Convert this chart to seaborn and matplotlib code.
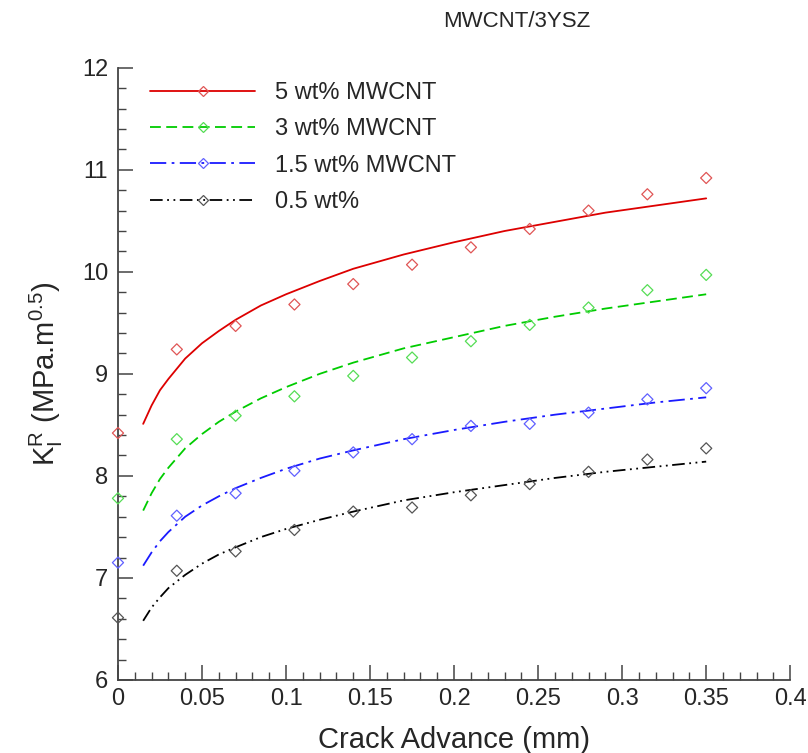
import matplotlib
matplotlib.use("Agg")
import matplotlib.pyplot as plt
from matplotlib.lines import Line2D
from matplotlib.ticker import MultipleLocator
import seaborn as sns

# measured points (crack advance in mm, K_R in MPa.m^0.5)
crack = [0, 0.035, 0.07, 0.105, 0.14, 0.175, 0.21, 0.245, 0.28, 0.315, 0.35]
k_5wt = [8.42, 9.24, 9.47, 9.68, 9.88, 10.07, 10.24, 10.42, 10.60, 10.76, 10.92]
k_3wt = [7.78, 8.36, 8.59, 8.78, 8.98, 9.16, 9.32, 9.48, 9.65, 9.82, 9.97]
k_15wt = [7.15, 7.61, 7.83, 8.05, 8.23, 8.36, 8.49, 8.51, 8.62, 8.75, 8.86]
k_05wt = [6.61, 7.07, 7.26, 7.47, 7.65, 7.69, 7.81, 7.92, 8.04, 8.16, 8.27]

# fitted curves
fit_x = [0.015, 0.02, 0.025, 0.03, 0.04, 0.05, 0.06, 0.07, 0.085, 0.1,
         0.12, 0.14, 0.17, 0.2, 0.23, 0.26, 0.29, 0.32, 0.35]
fit_5wt = [8.51, 8.69, 8.84, 8.95, 9.15, 9.30, 9.42, 9.53, 9.67, 9.78,
           9.91, 10.03, 10.17, 10.29, 10.40, 10.49, 10.58, 10.65, 10.72]
fit_3wt = [7.66, 7.83, 7.97, 8.08, 8.27, 8.41, 8.53, 8.63, 8.76, 8.87,
           9.00, 9.11, 9.25, 9.36, 9.47, 9.56, 9.64, 9.71, 9.78]
fit_15wt = [7.12, 7.25, 7.36, 7.45, 7.60, 7.71, 7.80, 7.88, 7.98, 8.07,
            8.17, 8.25, 8.36, 8.45, 8.53, 8.60, 8.66, 8.72, 8.77]
fit_05wt = [6.58, 6.71, 6.81, 6.90, 7.03, 7.14, 7.23, 7.30, 7.40, 7.48,
            7.57, 7.65, 7.76, 7.84, 7.91, 7.98, 8.04, 8.09, 8.14]

labels = ["5 wt% MWCNT", "3 wt% MWCNT", "1.5 wt% MWCNT", "0.5 wt%"]
x_ticks = [0, 0.05, 0.1, 0.15, 0.2, 0.25, 0.3, 0.35, 0.4]
x_ticklabels = ["0", "0.05", "0.1", "0.15", "0.2", "0.25", "0.3", "0.35", "0.4"]
y_ticks = [6, 7, 8, 9, 10, 11, 12]

sns.set_style("ticks")
plt.rcParams["font.family"] = ["Liberation Sans", "DejaVu Sans"]
plt.rcParams["mathtext.fontset"] = "custom"
plt.rcParams["mathtext.rm"] = "Liberation Sans"
plt.rcParams["mathtext.it"] = "Liberation Sans:italic"

fig = plt.figure(figsize=(8.08, 7.53), dpi=100)
ax = fig.add_axes([0.146, 0.097, 0.832, 0.813])

series = [
    (k_5wt, fit_5wt, "#dd0000", "#e05555", "-"),
    (k_3wt, fit_3wt, "#00cc00", "#55dd55", (0, (6, 3))),
    (k_15wt, fit_15wt, "#1a1aff", "#6060ff", (0, (9, 3, 1.5, 3))),
    (k_05wt, fit_05wt, "#000000", "#555555", (0, (7, 2.5, 1, 2.5, 1, 2.5))),
]

handles = []
for (pts, fit, lc, mc, ls), lab in zip(series, labels):
    sns.lineplot(x=fit_x, y=fit, ax=ax, color=lc, linestyle=ls, linewidth=1.3)
    sns.scatterplot(x=crack, y=pts, ax=ax, marker="D", s=32, clip_on=False,
                    facecolor="none", edgecolor=mc, linewidth=0.9, zorder=3)
    handles.append(Line2D([], [], color=lc, linestyle=ls, linewidth=1.3,
                          marker="D", markersize=5.5, markerfacecolor="none",
                          markeredgecolor=mc, markeredgewidth=0.9))

ax.legend(handles, labels, loc="upper left", bbox_to_anchor=(0.016, 1.011),
          frameon=False, fontsize=17, handlelength=4.45, handletextpad=0.85,
          labelspacing=0.6)

ax.set_xlim(0, 0.4)
ax.set_ylim(6, 12)
ax.set_xticks(x_ticks, x_ticklabels)
ax.set_yticks(y_ticks)
ax.xaxis.set_minor_locator(MultipleLocator(0.01))
ax.yaxis.set_minor_locator(MultipleLocator(0.2))

sns.despine(ax=ax)
for side in ["left", "bottom"]:
    ax.spines[side].set_color("#444444")
    ax.spines[side].set_linewidth(1.3)
ax.tick_params(which="major", direction="in", length=11, width=1.1,
               color="#444444", labelsize=17)
ax.tick_params(axis="x", which="major", pad=6)
ax.tick_params(axis="y", which="major", pad=7)
ax.tick_params(which="minor", direction="in", length=6, width=1.0,
               color="#444444")

ax.set_xlabel("Crack Advance (mm)", fontsize=21, labelpad=11)
ax.set_ylabel(r"K$_\mathrm{I}^\mathrm{R}$ (MPa.m$^{0.5}$)", fontsize=21, labelpad=12)
fig.text(0.64, 0.972, "MWCNT/3YSZ", ha="center", va="center", fontsize=16)

fig.savefig("out.png", dpi=100)
